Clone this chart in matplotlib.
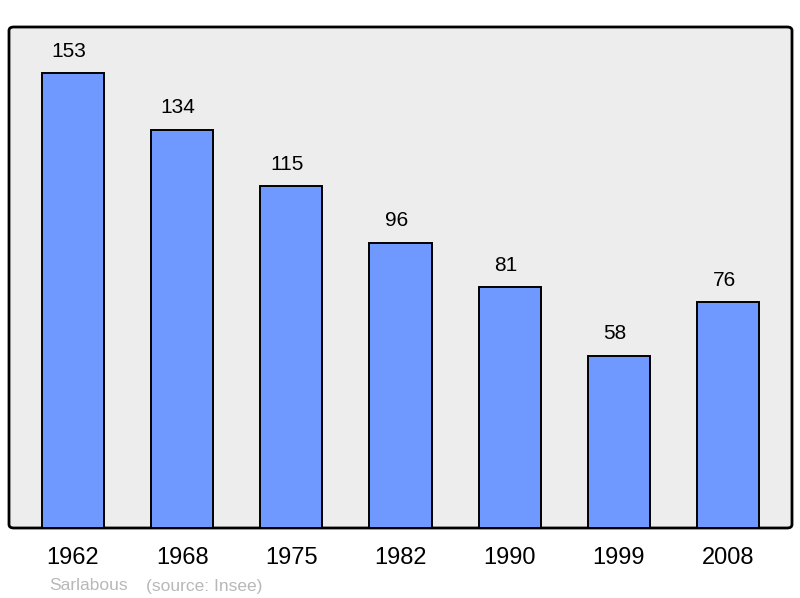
import matplotlib.pyplot as plt
from matplotlib.patches import FancyBboxPatch

plt.rcParams['font.family'] = ['Liberation Sans', 'DejaVu Sans']

years = ['1962', '1968', '1975', '1982', '1990', '1999', '2008']
population = [153, 134, 115, 96, 81, 58, 76]

fig = plt.figure(figsize=(8, 5.98), dpi=100)
ax = fig.add_axes([9 / 800, 70 / 598, 783 / 800, 501 / 598])
ax.set_facecolor('none')

# background frame with rounded corners
frame = FancyBboxPatch((9 / 800, 70 / 598), 783 / 800, 501 / 598,
                       boxstyle='round,pad=0,rounding_size=0.006',
                       transform=fig.transFigure, facecolor='#ededed',
                       edgecolor='black', linewidth=2, zorder=0,
                       clip_on=False)
ax.add_patch(frame)

x = range(len(years))
ax.bar(x, population, width=0.57, color='#7099ff', edgecolor='black',
       linewidth=1.4, zorder=2)
for i, v in enumerate(population):
    ax.text(i - 0.035, v + 4.2, str(v), ha='center', va='bottom', fontsize=15)

ax.set_xlim(-0.585, 6.585)
ax.set_ylim(0, 168.5)
ax.set_yticks([])
ax.set_xticks(list(x))
ax.set_xticklabels(years, fontsize=17)
ax.tick_params(axis='x', length=0, pad=14)
for s in ax.spines.values():
    s.set_visible(False)

fig.text(49 / 800, 1 - 586 / 598, 'Sarlabous', color='#b8b8b8',
         fontsize=12.5, va='center')
fig.text(146 / 800, 1 - 586 / 598, '(source: Insee)', color='#b8b8b8',
         fontsize=12.5, va='center')

fig.savefig('out.png')
